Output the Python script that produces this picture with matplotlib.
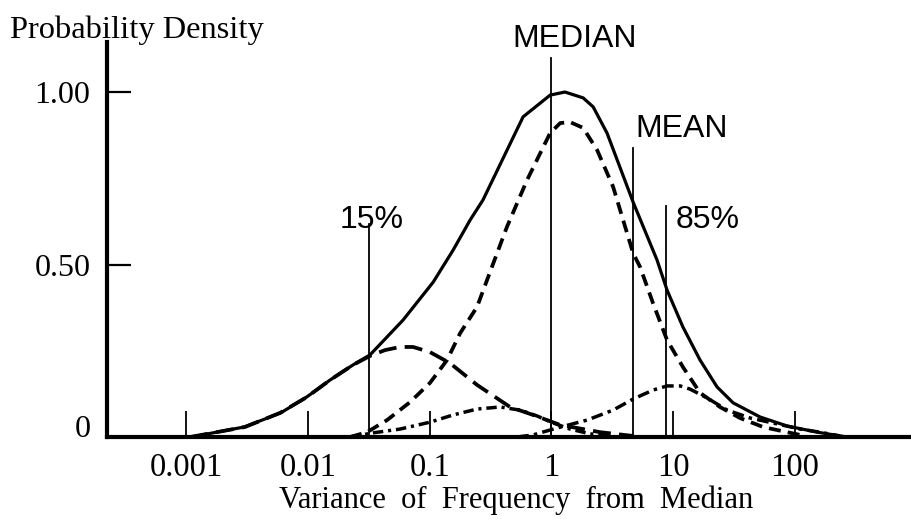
import matplotlib
matplotlib.use("Agg")
import matplotlib.pyplot as plt

# ---- data ----
x_total = [0.0011, 0.003, 0.006, 0.0098, 0.0152, 0.0235, 0.0324, 0.0605, 0.107, 0.156,
           0.215, 0.274, 0.585, 0.975, 1.29, 1.82, 2.2, 2.86, 4.68, 7.36, 8.89, 12.0,
           16.6, 22.9, 31.0, 51.6, 85.9, 152, 267]
y_total = [0.0, 0.029, 0.070, 0.116, 0.165, 0.209, 0.238, 0.339, 0.449, 0.542,
           0.629, 0.687, 0.928, 0.991, 1.0, 0.983, 0.957, 0.881, 0.681, 0.513, 0.426, 0.319,
           0.223, 0.145, 0.099, 0.058, 0.032, 0.014, 0.0]

x_main = [0.0222, 0.0306, 0.0447, 0.069, 0.1007, 0.139, 0.178, 0.245, 0.313, 0.431,
          0.631, 0.975, 1.18, 1.42, 1.82, 2.37, 3.21, 4.68, 5.34, 6.82, 8.89, 12.0,
          16.6, 24.2, 35.3, 54.6, 85.9, 121]
y_main = [0.0, 0.014, 0.049, 0.101, 0.157, 0.223, 0.301, 0.377, 0.478, 0.609,
          0.745, 0.881, 0.910, 0.913, 0.896, 0.832, 0.725, 0.533, 0.493, 0.388, 0.281, 0.203,
          0.128, 0.087, 0.055, 0.029, 0.014, 0.003]

x_low = [0.00108, 0.00305, 0.00592, 0.00984, 0.0152, 0.0235, 0.0324, 0.0431, 0.0572,
         0.0731, 0.1007, 0.147, 0.245, 0.457, 0.706, 1.18, 2.51, 4.68]
y_low = [0.0, 0.029, 0.070, 0.116, 0.165, 0.209, 0.235, 0.252, 0.261,
         0.261, 0.246, 0.214, 0.151, 0.087, 0.064, 0.035, 0.014, 0.003]

x_bump = [0.0222, 0.0343, 0.0572, 0.1007, 0.156, 0.245, 0.378, 0.552, 0.762, 1.03,
          1.42, 2.08, 3.03]
y_bump = [0.0, 0.012, 0.023, 0.043, 0.064, 0.081, 0.087, 0.078, 0.061, 0.041,
          0.023, 0.009, 0.003]

x_high = [0.522, 0.706, 1.11, 1.96, 3.21, 4.68, 6.82, 8.89, 11.4, 13.7, 19.0, 27.7,
          42.8, 71.1, 110, 160, 234]
y_high = [0.0, 0.006, 0.026, 0.049, 0.078, 0.110, 0.136, 0.148, 0.148, 0.139, 0.113, 0.078,
          0.055, 0.038, 0.023, 0.014, 0.003]

marker_labels = ["15%", "MEDIAN", "MEAN", "85%"]
marker_x = [0.0318, 1.0, 4.68, 8.73]
marker_top = [0.617, 1.099, 0.838, 0.670]
marker_text_x = [0.0184, 0.475, 4.85, 10.5]
marker_text_y = [0.606, 1.130, 0.870, 0.606]

xtick_vals = [0.001, 0.01, 0.1, 1, 10, 100]
xtick_labels = ["0.001", "0.01", "0.1", "1", "10", "100"]
ytick_vals = [0, 0.5, 1.0]
ytick_labels = ["0", "0.50", "1.00"]

SERIF = ["Liberation Serif", "DejaVu Serif"]
SANS = ["Liberation Sans", "DejaVu Sans"]

fig = plt.figure(figsize=(9.11, 5.19), dpi=100)
ax = fig.add_axes([107 / 911, (519 - 437) / 519, 1 - 107 / 911, (437 - 42) / 519])
ax.set_xscale("log")
ax.set_xlim(2.245e-4, 895)
ax.set_ylim(0, 1.145)

ax.plot(x_total, y_total, color="black", lw=2.3, solid_joinstyle="round")
ax.plot(x_main, y_main, color="black", lw=2.7, linestyle=(0, (3.2, 1.9)))
ax.plot(x_low, y_low, color="black", lw=2.7, linestyle=(0, (4.8, 2.2)))
ax.plot(x_bump, y_bump, color="black", lw=2.5, linestyle=(0, (3.0, 1.4, 0.9, 1.4)))
ax.plot(x_high, y_high, color="black", lw=2.5, linestyle=(0, (3.4, 1.5, 1.0, 1.5)))

for lab, xv, top, tx, ty in zip(marker_labels, marker_x, marker_top, marker_text_x, marker_text_y):
    ax.plot([xv, xv], [0, top], color="black", lw=1.3)
    ax.text(tx, ty, lab, family=SANS, fontsize=23, ha="left", va="baseline", clip_on=False)

for s in ["top", "right"]:
    ax.spines[s].set_visible(False)
for s in ["left", "bottom"]:
    ax.spines[s].set_linewidth(3)

ax.set_xticks(xtick_vals)
ax.set_xticklabels(xtick_labels, family=SERIF, fontsize=23.5)
ax.xaxis.set_minor_locator(matplotlib.ticker.NullLocator())
ax.tick_params(axis="x", direction="in", length=19, width=1.3, pad=11)

ax.set_yticks(ytick_vals)
ax.set_yticklabels(ytick_labels, family=SERIF, fontsize=23)
ax.tick_params(axis="y", direction="in", length=17, width=1.6, pad=12)
ylabs = ax.get_yticklabels()
ylabs[0].set_verticalalignment("baseline")

fig.text(10 / 911, 1 - 38 / 519, "Probability Density", family=SERIF, fontsize=23.4,
         ha="left", va="baseline")
fig.text(516 / 911, 1 - 508 / 519, "Variance  of  Frequency  from  Median", family=SERIF,
         fontsize=22, ha="center", va="baseline")

fig.savefig("out.png", dpi=100)
